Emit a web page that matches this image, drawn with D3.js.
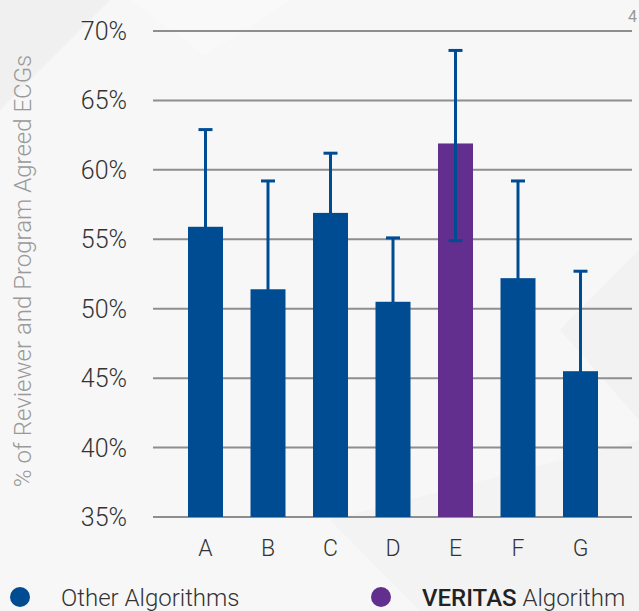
<!DOCTYPE html>
<html>
<head>
<meta charset="utf-8">
<script src="https://cdn.jsdelivr.net/npm/d3@7"></script>
<style>
  html, body { margin: 0; padding: 0; background: #f7f7f7; }
  svg { display: block; }
</style>
</head>
<body>
<div id="chart"></div>
<script>
const categories = ["A", "B", "C", "D", "E", "F", "G"];
const values = [55.9, 51.4, 56.9, 50.5, 61.9, 52.2, 45.5];
const errUpper = [62.9, 59.2, 61.2, 55.1, 68.6, 59.2, 52.7];
const errLower = [48.9, 43.6, 52.6, 45.9, 54.9, 45.2, 38.3];
const groups = ["Other", "Other", "Other", "Other", "VERITAS", "Other", "Other"];
const yTicks = [35, 40, 45, 50, 55, 60, 65, 70];
const yLabel = "% of Reviewer and Program Agreed ECGs";
const legendItems = [
  { key: "Other", bold: "", rest: "Other Algorithms" },
  { key: "VERITAS", bold: "VERITAS", rest: " Algorithm" }
];

const W = 639, H = 611;
const colors = { Other: "#004c93", VERITAS: "#622f8f" };
const errColor = "#004c93";
const font = "Roboto, 'Open Sans', sans-serif";

const svg = d3.select("#chart").append("svg")
  .attr("width", W).attr("height", H);

// subtle background facets
svg.append("rect").attr("width", W).attr("height", H).attr("fill", "#f7f7f7");
const bg = svg.append("g");
bg.append("path").attr("d", "M0,0 L110,0 L0,110 Z").attr("fill", "#f0f0f0");
bg.append("path").attr("d", "M130,0 L290,0 L205,55 Z").attr("fill", "#f9f9f9");
bg.append("path").attr("d", "M330,520 L639,440 L639,611 L420,611 Z").attr("fill", "#f3f3f3");
bg.append("path").attr("d", "M560,330 L639,250 L639,420 Z").attr("fill", "#f2f2f2");

const x = d3.scaleBand().domain(categories).range([160.5, 625.5]).padding(0.44);
const y = d3.scaleLinear().domain([35, 70]).range([517, 31]);

// gridlines
svg.append("g").selectAll("line").data(yTicks).join("line")
  .attr("x1", 153).attr("x2", 632)
  .attr("y1", d => y(d)).attr("y2", d => y(d))
  .attr("stroke", "#8e8e8e").attr("stroke-width", 2);

// y tick labels
svg.append("g").selectAll("text").data(yTicks).join("text")
  .attr("x", 127).attr("y", d => y(d))
  .attr("dy", "0.36em")
  .attr("text-anchor", "end")
  .attr("font-family", font).attr("font-weight", 300)
  .attr("font-size", 25).attr("fill", "#333")
  .text(d => d + "%");

// y axis title
svg.append("text")
  .attr("transform", "translate(31,271) rotate(-90)")
  .attr("text-anchor", "middle")
  .attr("font-family", font).attr("font-weight", 300)
  .attr("font-size", 24).attr("fill", "#9a9a9a")
  .text(yLabel);

// bars
svg.append("g").selectAll("rect").data(categories).join("rect")
  .attr("x", d => x(d))
  .attr("width", x.bandwidth())
  .attr("y", (d, i) => y(values[i]))
  .attr("height", (d, i) => y(35) - y(values[i]))
  .attr("fill", (d, i) => colors[groups[i]]);

// error bars
const eb = svg.append("g").attr("stroke", errColor);
categories.forEach((c, i) => {
  const cx = x(c) + x.bandwidth() / 2;
  eb.append("line").attr("x1", cx).attr("x2", cx)
    .attr("y1", y(errUpper[i])).attr("y2", y(errLower[i]))
    .attr("stroke-width", 3);
  [errUpper[i], errLower[i]].forEach(v => {
    eb.append("line").attr("x1", cx - 7).attr("x2", cx + 7)
      .attr("y1", y(v)).attr("y2", y(v)).attr("stroke-width", 3);
  });
});

// x labels
svg.append("g").selectAll("text").data(categories).join("text")
  .attr("x", d => x(d) + x.bandwidth() / 2)
  .attr("y", 556)
  .attr("text-anchor", "middle")
  .attr("font-family", font).attr("font-weight", 300)
  .attr("font-size", 23).attr("fill", "#333")
  .text(d => d);

// page number fragment
svg.append("text").attr("x", 628).attr("y", 22)
  .attr("font-family", font).attr("font-size", 16).attr("fill", "#999").text("4");

// legend
const legX = [20, 381];
const leg = svg.append("g").selectAll("g").data(legendItems).join("g")
  .attr("transform", (d, i) => `translate(${legX[i]},597)`);
leg.append("circle").attr("r", 10).attr("fill", d => colors[d.key]);
const lt = leg.append("text").attr("x", 41).attr("y", 9)
  .attr("font-family", font).attr("font-weight", 300)
  .attr("font-size", 24).attr("fill", "#333");
lt.append("tspan").attr("font-weight", 500).attr("fill", "#222").text(d => d.bold);
lt.append("tspan").text(d => d.rest);
</script>
</body>
</html>
